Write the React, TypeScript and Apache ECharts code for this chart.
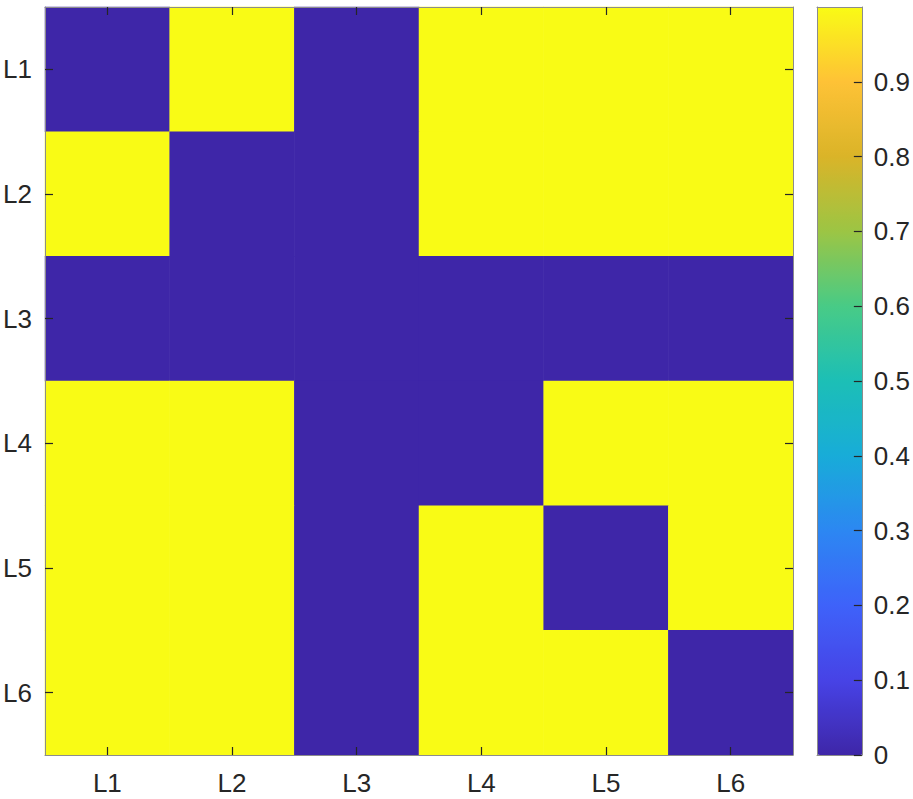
import React, { useEffect, useRef } from "react";
import * as echarts from "echarts";

const rowLabels = ["L1", "L2", "L3", "L4", "L5", "L6"];
const colLabels = ["L1", "L2", "L3", "L4", "L5", "L6"];
const matrix = [
  [0, 1, 0, 1, 1, 1],
  [1, 0, 0, 1, 1, 1],
  [0, 0, 0, 0, 0, 0],
  [1, 1, 0, 0, 1, 1],
  [1, 1, 0, 1, 0, 1],
  [1, 1, 0, 1, 1, 0],
];
const colorbarTicks = ["0", "0.1", "0.2", "0.3", "0.4", "0.5", "0.6", "0.7", "0.8", "0.9"];
const parula = [
  "#3e26a8", "#4743e6", "#3e62fa", "#2c87f2", "#18acd8", "#1cbfb6",
  "#48cb86", "#9cc544", "#dab428", "#fec236", "#f9fb15",
];

export default function App() {
  const ref = useRef<HTMLDivElement>(null);
  useEffect(() => {
    document.body.style.margin = "0";
    const chart = echarts.init(ref.current!, null, { renderer: "svg" });
    const data: number[][] = [];
    matrix.forEach((row, r) => row.forEach((v, c) => data.push([c, r, v])));
    const font = { fontFamily: "Liberation Sans, Arial, sans-serif", fontSize: 26, color: "#262626" };
    const border = { show: true, onZero: false, lineStyle: { color: "#8c8c8c", width: 1 } };
    const tick = { show: true, inside: true, length: 8, alignWithLabel: true, lineStyle: { color: "#262626", width: 1.2 } };
    chart.setOption({
      animation: false,
      grid: [
        { left: 45, top: 7, width: 748, height: 748 },
        { left: 817, top: 7, width: 46, height: 748 },
      ],
      xAxis: [
        { type: "category", data: colLabels, gridIndex: 0, position: "bottom", z: 10, axisLine: border, axisTick: tick, axisLabel: { ...font, margin: 15 }, splitLine: { show: false } },
        { type: "category", data: colLabels, gridIndex: 0, position: "top", z: 10, axisLine: border, axisTick: tick, axisLabel: { show: false }, splitLine: { show: false } },
        { type: "value", min: 0, max: 1, gridIndex: 1, position: "bottom", z: 10, axisLine: border, axisTick: { show: false }, axisLabel: { show: false }, splitLine: { show: false } },
        { type: "value", min: 0, max: 1, gridIndex: 1, position: "top", z: 10, axisLine: border, axisTick: { show: false }, axisLabel: { show: false }, splitLine: { show: false } },
      ],
      yAxis: [
        { type: "category", data: rowLabels, gridIndex: 0, inverse: true, position: "left", z: 10, axisLine: border, axisTick: tick, axisLabel: { ...font, margin: 13 }, splitLine: { show: false } },
        { type: "category", data: rowLabels, gridIndex: 0, inverse: true, position: "right", z: 10, axisLine: border, axisTick: tick, axisLabel: { show: false }, splitLine: { show: false } },
        { type: "value", min: 0, max: 1, gridIndex: 1, position: "left", z: 10, axisLine: border, axisTick: { show: false }, axisLabel: { show: false }, splitLine: { show: false } },
        {
          type: "value", min: 0, max: 1, interval: 0.1, gridIndex: 1, position: "right", z: 10,
          axisLine: border,
          axisTick: { show: true, inside: true, length: 8, lineStyle: { color: "#262626", width: 1.2 } },
          axisLabel: {
            ...font, margin: 12, showMaxLabel: false,
            formatter: (v: number) => colorbarTicks[Math.round(v * 10)] ?? "",
          },
          splitLine: { show: false },
        },
      ],
      visualMap: {
        type: "continuous",
        min: 0,
        max: 1,
        seriesIndex: 0,
        orient: "vertical",
        left: 817,
        top: 7,
        itemWidth: 46,
        itemHeight: 748,
        padding: 0,
        calculable: false,
        hoverLink: false,
        showLabel: false,
        inRange: { color: parula },
      },
      series: [
        {
          type: "heatmap",
          xAxisIndex: 0,
          yAxisIndex: 0,
          data,
          itemStyle: { borderWidth: 0 },
          emphasis: { disabled: true },
        },
      ],
    });
    return () => chart.dispose();
  }, []);
  return <div ref={ref} style={{ width: 913, height: 799 }} />;
}
